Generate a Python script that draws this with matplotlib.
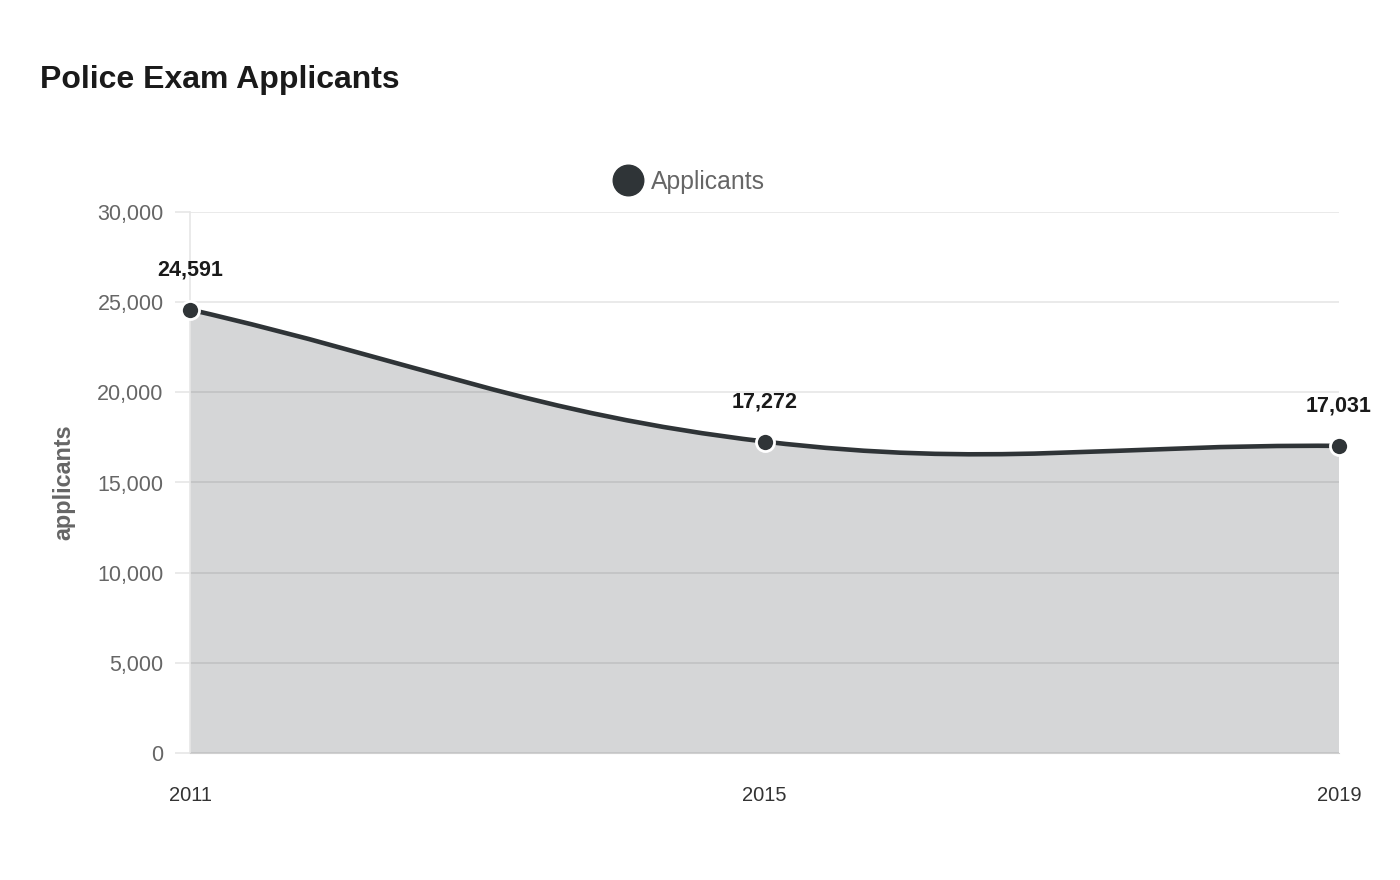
import numpy as np
import matplotlib.pyplot as plt
from matplotlib.path import Path
from matplotlib.patches import PathPatch
from matplotlib.lines import Line2D

plt.rcParams['font.family'] = ['Liberation Sans', 'DejaVu Sans']

years = [2011, 2015, 2019]
applicants = [24591, 17272, 17031]
yticks = [0, 5000, 10000, 15000, 20000, 25000, 30000]

line_col = '#2f3437'
grid_col = '#e6e6e6'

fig = plt.figure(figsize=(14, 8.8), dpi=100)
ax = fig.add_axes([190/1400, 1-753/880, (1339-190)/1400, (753-212)/880])
ax.set_xlim(years[0], years[-1])
ax.set_ylim(0, 30000)

# spline like chart.js (tension 0.4), control points worked out in pixel space
tension = 0.4
pts = ax.transData.transform(np.column_stack([years, applicants]))
n = len(pts)
cp_prev = np.zeros_like(pts)
cp_next = np.zeros_like(pts)
for i in range(n):
    prev = pts[max(i-1, 0)]
    cur = pts[i]
    nxt = pts[min(i+1, n-1)]
    d01 = np.hypot(*(cur-prev))
    d12 = np.hypot(*(nxt-cur))
    s01 = d01/(d01+d12)
    s12 = d12/(d01+d12)
    cp_prev[i] = cur - tension*s01*(nxt-prev)
    cp_next[i] = cur + tension*s12*(nxt-prev)

verts = [pts[0]]
codes = [Path.MOVETO]
for i in range(n-1):
    verts += [cp_next[i], cp_prev[i+1], pts[i+1]]
    codes += [Path.CURVE4]*3
inv = ax.transData.inverted()
verts = inv.transform(np.array(verts))

fill_verts = np.vstack([verts, [[years[-1], 0], [years[0], 0], verts[0]]])
fill_codes = codes + [Path.LINETO, Path.LINETO, Path.CLOSEPOLY]
ax.add_patch(PathPatch(Path(fill_verts, fill_codes), fc=line_col, alpha=0.2, lw=0, zorder=2))
ax.add_patch(PathPatch(Path(verts, codes), fc='none', ec=line_col, lw=3.3, zorder=3,
                       capstyle='round'))

ax.plot(years, applicants, 'o', ms=13, mfc=line_col, mec='white', mew=2, zorder=4,
        clip_on=False)
for x, y in zip(years, applicants):
    ax.annotate(f'{y:,}', (x, y), xytext=(0, 28.5), textcoords='offset points',
                ha='center', va='center', fontsize=15.5, fontweight='bold', color='#1a1a1a')

ax.set_yticks(yticks)
ax.set_yticklabels([f'{v:,}' for v in yticks])
ax.set_xticks(years)
ax.set_xticklabels([str(y) for y in years])
ax.grid(axis='y', color=grid_col, lw=1.2, zorder=1)
ax.set_axisbelow(True)
ax.tick_params(axis='y', length=11, color=grid_col, width=1.2, pad=8, labelsize=15.5, labelcolor='#666666')
ax.tick_params(axis='x', length=0, pad=24, labelsize=14.5, labelcolor='#333333')
for s in ['top', 'right']:
    ax.spines[s].set_visible(False)
ax.spines['left'].set_color(grid_col)
ax.spines['bottom'].set_color('#d0d0d0')
ax.spines['left'].set_linewidth(1.2)

ax.set_ylabel('applicants', fontsize=16.8, fontweight='bold', color='#666666')
ax.yaxis.set_label_coords(-115/1149, 0.5)

fig.text(40/1400, 1-80/880, 'Police Exam Applicants', fontsize=23, fontweight='bold',
         color='#1a1a1a', ha='left', va='center')

handle = Line2D([], [], marker='o', ls='none', ms=22, mfc=line_col, mec=line_col)
fig.legend([handle], ['Applicants'], loc='center', bbox_to_anchor=(689/1400, 1-182/880),
           frameon=False, fontsize=17.8, labelcolor='#666666', handletextpad=0.3,
           handlelength=1.2)

fig.savefig('out.png', dpi=100)
